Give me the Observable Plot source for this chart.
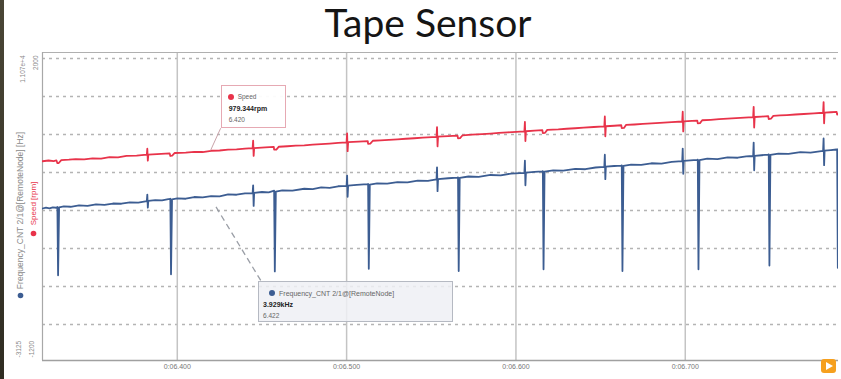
<!DOCTYPE html>
<html><head><meta charset="utf-8">
<script src="https://cdn.jsdelivr.net/npm/d3@7"></script>
<script src="https://cdn.jsdelivr.net/npm/@observablehq/plot@0.6"></script>
<style>
body{margin:0;background:#fff;width:841px;height:379px;overflow:hidden;position:relative;font-family:"Liberation Sans",Arial,sans-serif}
#strip{position:absolute;left:0;top:0;width:4px;height:379px;background:linear-gradient(#4a4636,#2f2c22)}
#title{position:absolute;left:428px;top:3px;transform:translateX(-50%);font:39px/1 Lato,"Open Sans",sans-serif;color:#151515;white-space:nowrap}
#chart{position:absolute;left:0;top:50px;width:841px;height:329px}
#chart > svg{position:absolute;left:0;top:0}
.tip{position:absolute;box-sizing:border-box;color:#666;font-family:"Liberation Sans",Arial,sans-serif}
.tip span{position:absolute;white-space:nowrap;line-height:1}
.tip .dot{width:6px;height:6px;border-radius:50%}
.tip .val{font-weight:bold;color:#222;font-size:7px}
.tip .nm,.tip .tm{font-size:6.5px}
#play{position:absolute;left:821px;top:359px;width:15px;height:14px;background:#f6a01e;border-radius:3px}
#play:after{content:"";position:absolute;left:5px;top:3px;border-left:7px solid #fff;border-top:4px solid transparent;border-bottom:4px solid transparent}
</style></head>
<body>
<div id="strip"></div>
<div id="title">Tape Sensor</div>
<div id="chart"></div>
<div id="play"></div>
<script>
// ---- data ----
const xDomain = [6.3204, 6.7905];
const xTicks = [6.4, 6.5, 6.6, 6.7];
const freqDomain = [-3125, 11070];
const speedDomain = [-1200, 2000];
const freqAxisLabels = ["1.107e+4", "-3125"];
const speedAxisLabels = ["2000", "-1200"];
const gridHz = [10793, 9042, 7291, 5539, 3788, 2036, 285, -1466];
const freqName = "Frequency_CNT 2/1@[RemoteNode] [Hz]";
const speedName = "Speed [rpm]";
const tipNames = ["Speed", "Frequency_CNT 2/1@[RemoteNode]"];
const tipTimes = [6.420, 6.422];
const tipValues = [979.344, 3929];
const tipTexts = ["979.344rpm", "3.929kHz"];

const freqPoints = [
[6.3204,3880],[6.3225,3925],[6.3245,3890],[6.3265,3935],[6.3286,3915],
[6.3292,3950],[6.3296,800],[6.3302,3930],
[6.3330,3975],[6.3370,3960],[6.3420,4020],[6.3470,4000],[6.3520,4070],[6.3570,4050],[6.3620,4110],[6.3670,4100],[6.3720,4165],[6.3770,4150],[6.3820,4220],
[6.3823,4520],[6.3826,3920],[6.3829,4235],
[6.3870,4270],[6.3910,4255],[6.3955,4320],
[6.3959,4330],[6.3963,850],[6.3969,4300],
[6.4000,4345],[6.4050,4330],[6.4100,4410],[6.4150,4390],[6.4200,4455],[6.4250,4440],[6.4300,4530],[6.4350,4515],[6.4400,4580],[6.4445,4590],
[6.4448,4950],[6.4451,4000],[6.4454,4605],
[6.4500,4640],[6.4540,4620],[6.4568,4690],
[6.4572,4700],[6.4576,980],[6.4582,4660],
[6.4620,4715],[6.4680,4700],[6.4750,4790],[6.4800,4775],[6.4850,4850],[6.4900,4835],[6.4950,4905],[6.5000,4920],
[6.5003,5400],[6.5006,4420],[6.5009,4930],
[6.5060,4970],[6.5123,5000],
[6.5127,5010],[6.5131,1100],[6.5137,4980],
[6.5180,5040],[6.5240,5025],[6.5300,5095],[6.5360,5080],[6.5420,5160],[6.5480,5150],[6.5531,5225],
[6.5534,5780],[6.5537,4680],[6.5540,5235],
[6.5600,5275],[6.5654,5305],
[6.5658,5315],[6.5662,1000],[6.5668,5290],
[6.5720,5355],[6.5780,5340],[6.5850,5425],[6.5910,5410],[6.5970,5490],[6.6050,5525],
[6.6053,6090],[6.6056,4950],[6.6059,5535],
[6.6110,5570],[6.6155,5590],
[6.6159,5600],[6.6163,1080],[6.6169,5575],
[6.6220,5640],[6.6280,5625],[6.6350,5705],[6.6410,5690],[6.6470,5770],[6.6522,5800],
[6.6525,6360],[6.6528,5230],[6.6531,5810],
[6.6580,5840],[6.6621,5860],
[6.6625,5870],[6.6629,1000],[6.6635,5845],
[6.6680,5905],[6.6740,5890],[6.6800,5965],[6.6860,5950],[6.6920,6030],[6.6982,6065],
[6.6985,6640],[6.6988,5480],[6.6991,6075],
[6.7030,6095],[6.7070,6120],
[6.7074,6130],[6.7078,1080],[6.7084,6105],
[6.7130,6175],[6.7190,6160],[6.7250,6235],[6.7310,6220],[6.7360,6285],[6.7401,6300],
[6.7404,6920],[6.7407,5640],[6.7410,6310],
[6.7450,6335],[6.7489,6365],
[6.7493,6375],[6.7497,1250],[6.7503,6350],
[6.7550,6410],[6.7610,6395],[6.7680,6475],[6.7740,6460],[6.7814,6540],
[6.7817,7110],[6.7820,5880],[6.7823,6550],
[6.7860,6575],[6.7893,6600],
[6.7897,6610],[6.7901,1150],[6.7905,2600]
];

const speedPoints = [
[6.3204,870],[6.3240,878],[6.3270,872],[6.3286,880],
[6.3292,850],[6.3300,852],[6.3315,882],
[6.3360,886],[6.3400,892],[6.3450,889],[6.3500,900],[6.3550,898],[6.3600,912],[6.3650,910],[6.3700,925],[6.3760,928],[6.3820,938],
[6.3823,1000],[6.3826,876],[6.3829,940],
[6.3880,944],[6.3955,952],
[6.3959,925],[6.3970,928],[6.3985,956],
[6.4050,960],[6.4100,968],[6.4150,966],[6.4200,979],[6.4250,982],[6.4300,990],[6.4350,994],[6.4400,1001],[6.4445,1006],
[6.4448,1085],[6.4451,925],[6.4454,1007],
[6.4520,1014],[6.4570,1019],
[6.4572,990],[6.4585,992],[6.4600,1021],
[6.4650,1026],[6.4700,1032],[6.4750,1036],[6.4800,1043],[6.4850,1048],[6.4900,1054],[6.4950,1060],[6.5000,1066],
[6.5003,1160],[6.5006,975],[6.5009,1068],
[6.5070,1074],[6.5125,1080],
[6.5127,1050],[6.5140,1053],[6.5155,1083],
[6.5200,1088],[6.5250,1093],[6.5300,1098],[6.5350,1104],[6.5400,1109],[6.5450,1115],[6.5531,1124],
[6.5534,1225],[6.5537,1025],[6.5540,1125],
[6.5600,1131],[6.5655,1137],
[6.5658,1108],[6.5670,1110],[6.5685,1140],
[6.5740,1146],[6.5800,1153],[6.5850,1158],[6.5900,1164],[6.5950,1170],[6.6050,1181],
[6.6053,1280],[6.6056,1080],[6.6059,1182],
[6.6110,1188],[6.6156,1193],
[6.6159,1163],[6.6172,1166],[6.6185,1196],
[6.6250,1201],[6.6300,1208],[6.6350,1213],[6.6400,1219],[6.6460,1226],[6.6522,1233],
[6.6525,1335],[6.6528,1130],[6.6531,1234],
[6.6580,1239],[6.6622,1244],
[6.6625,1214],[6.6638,1216],[6.6650,1247],
[6.6700,1252],[6.6750,1258],[6.6800,1263],[6.6850,1269],[6.6920,1276],[6.6982,1283],
[6.6985,1385],[6.6988,1180],[6.6991,1284],
[6.7040,1289],[6.7071,1293],
[6.7074,1263],[6.7087,1266],[6.7100,1296],
[6.7150,1301],[6.7200,1307],[6.7250,1312],[6.7300,1318],[6.7350,1323],[6.7401,1329],
[6.7404,1435],[6.7407,1220],[6.7410,1330],
[6.7450,1334],[6.7490,1339],
[6.7493,1309],[6.7506,1312],[6.7520,1342],
[6.7560,1346],[6.7600,1350],[6.7650,1356],[6.7700,1361],[6.7760,1368],[6.7814,1374],
[6.7817,1485],[6.7820,1265],[6.7823,1375],
[6.7860,1379],[6.7894,1383],
[6.7897,1355],[6.7905,1358]
];

// ---- drawing ----
const BLUE = "#3c5d92", RED = "#e8334a";
const W = 841, H = 329;
const common = {width: W, height: H, marginLeft: 42, marginRight: 3, marginTop: 2, marginBottom: 19};
const tickFormat = t => "0:0" + t.toFixed(3);

const plotA = Plot.plot({
  ...common,
  x: {domain: xDomain},
  y: {domain: freqDomain, axis: null},
  style: {background: "transparent", fontFamily: "Liberation Sans, Arial, sans-serif", fontSize: "7px", color: "#777", overflow: "visible"},
  marks: [
    Plot.ruleY(gridHz, {stroke: "#b4b4b4", strokeWidth: 1.5, strokeDasharray: "3,4"}),
    Plot.ruleX(xTicks, {stroke: "#c4c4c4", strokeWidth: 1.5}),
    Plot.ruleY([freqDomain[1]], {stroke: "#b0b0b0", strokeWidth: 1}),
    Plot.ruleY([freqDomain[0]], {stroke: "#a0a0a0", strokeWidth: 1.5}),
    Plot.ruleX([xDomain[0]], {stroke: "#a8a8a8", strokeWidth: 1.2}),
    Plot.line(freqPoints, {x: d => d[0], y: d => d[1], stroke: BLUE, strokeWidth: 1.8, clip: true}),
    Plot.axisX({ticks: xTicks, tickFormat, tickSize: 0, tickPadding: 4, fill: "#777"}),
    Plot.text([freqAxisLabels[0]], {text: d => d, frameAnchor: "top-left", dx: -22, dy: 3, rotate: -90, textAnchor: "end", fontSize: 6.5, fill: "#8a8a8a"}),
    Plot.text([freqAxisLabels[1]], {text: d => d, frameAnchor: "bottom-left", dx: -22, dy: -3, rotate: -90, textAnchor: "start", fontSize: 6.5, fill: "#8a8a8a"}),
    Plot.text([freqName], {text: d => d, frameAnchor: "left", dx: -22, dy: 4, rotate: -90, textAnchor: "middle", fontSize: 8.5, fill: "#8a8a8a"}),
    Plot.dot([freqName], {frameAnchor: "left", dx: -22, dy: 89, r: 2.8, fill: BLUE})
  ]
});

const plotB = Plot.plot({
  ...common,
  x: {domain: xDomain, axis: null},
  y: {domain: speedDomain, axis: null},
  style: {background: "transparent", fontFamily: "Liberation Sans, Arial, sans-serif", fontSize: "7px", overflow: "visible"},
  marks: [
    Plot.line(speedPoints, {x: d => d[0], y: d => d[1], stroke: RED, strokeWidth: 1.8, clip: true}),
    Plot.text([speedAxisLabels[0]], {text: d => d, frameAnchor: "top-left", dx: -9, dy: 3, rotate: -90, textAnchor: "end", fontSize: 6.5, fill: "#8a8a8a"}),
    Plot.text([speedAxisLabels[1]], {text: d => d, frameAnchor: "bottom-left", dx: -9, dy: -3, rotate: -90, textAnchor: "start", fontSize: 6.5, fill: "#8a8a8a"}),
    Plot.text([speedName], {text: d => d, frameAnchor: "left", dx: -9, dy: -3, rotate: -90, textAnchor: "middle", fontSize: 8, fill: RED}),
    Plot.dot([speedName], {frameAnchor: "left", dx: -9, dy: 27, r: 2.8, fill: RED})
  ]
});

const chart = document.getElementById("chart");
chart.appendChild(plotA);
chart.appendChild(plotB);

// tooltips positioned through the plots' scales
const sx = plotA.scale("x"), sF = plotA.scale("y"), sS = plotB.scale("y");
const pS = [sx.apply(tipTimes[0]), sS.apply(tipValues[0])];
const pF = [sx.apply(tipTimes[1]), sF.apply(tipValues[1])];

const lead = d3.select(chart).append("svg")
  .attr("width", W).attr("height", H)
  .style("position", "absolute").style("left", 0).style("top", 0).style("overflow", "visible");
lead.append("line").attr("x1", pS[0]).attr("y1", pS[1]).attr("x2", pS[0] + 10).attr("y2", pS[1] - 22)
  .attr("stroke", "#c9a3aa").attr("stroke-width", 1);
lead.append("line").attr("x1", pF[0] + 2).attr("y1", pF[1]).attr("x2", pF[0] + 47).attr("y2", pF[1] + 74)
  .attr("stroke", "#9a9ea6").attr("stroke-width", 1.3).attr("stroke-dasharray", "6,4");

function tip(left, top, w, h, bg, border, color, name, val, time, nmX, nmSize) {
  const d = document.createElement("div");
  d.className = "tip";
  Object.assign(d.style, {left: left + "px", top: top + "px", width: w + "px", height: h + "px", background: bg, border: "1px solid " + border});
  d.innerHTML =
    `<span class="dot" style="left:${nmX - 10}px;top:8px;background:${color}"></span>` +
    `<span class="nm" style="left:${nmX}px;top:8px;font-size:${nmSize}px">${name}</span>` +
    `<span class="val" style="left:${nmX === 16 ? 7 : 4}px;top:19px">${val}</span>` +
    `<span class="tm" style="left:${nmX === 16 ? 7 : 4}px;top:31px">${time}</span>`;
  chart.appendChild(d);
}
tip(pS[0] + 10, pS[1] - 65, 65, 43, "rgba(255,255,255,0.95)", "#e6a9b3", RED, tipNames[0], tipTexts[0], tipTimes[0].toFixed(3), 16, 6.5);
tip(pF[0] + 44, pF[1] + 74, 195, 41, "rgba(238,240,244,0.85)", "#b5b9c2", BLUE, tipNames[1], tipTexts[1], tipTimes[1].toFixed(3), 20, 7);
</script>
</body></html>
